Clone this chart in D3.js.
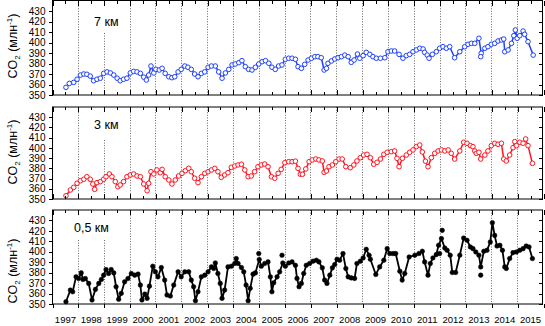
<!DOCTYPE html>
<html>
<head>
<meta charset="utf-8">
<script src="https://cdn.jsdelivr.net/npm/d3@7"></script>
<style>
  body { margin: 0; background: #fff; }
  svg { display: block; font-family: Arial, "Liberation Sans", sans-serif; }
</style>
</head>
<body>
<svg id="canvas"></svg>
<script>
// [decimal year, CO2 ppm]
const series7km = [
  [1997.54,357.3],[1997.67,361],[1997.84,362],[1997.97,365],[1998.10,369],[1998.23,370],[1998.35,369.7],[1998.48,368],
  [1998.61,363.6],[1998.74,365],[1998.87,366],[1999.00,370.6],[1999.13,372],[1999.26,371],[1999.39,369],[1999.52,366],
  [1999.64,363.6],[1999.77,365],[1999.90,366],[2000.03,371],[2000.16,372.5],[2000.29,372],[2000.42,370.6],[2000.55,367],
  [2000.65,364.3],[2000.74,369],[2000.83,377.6],[2000.94,371],[2001.02,374.4],[2001.15,373.8],[2001.26,375.4],[2001.38,370.6],
  [2001.52,367.4],[2001.64,366.5],[2001.75,367.4],[2001.88,372],[2002.00,374.4],[2002.14,377.6],[2002.26,376.4],[2002.39,374.4],
  [2002.52,370],[2002.65,367.4],[2002.78,370.6],[2002.91,372],[2003.04,376.4],[2003.17,377.6],[2003.32,377.6],[2003.45,372],
  [2003.58,366],[2003.71,371],[2003.84,374.4],[2003.97,378.6],[2004.09,379.5],[2004.23,380.8],[2004.35,382.7],[2004.48,377],
  [2004.61,374.4],[2004.74,373.8],[2004.87,376.4],[2005.00,379.5],[2005.13,381.7],[2005.26,382.7],[2005.39,380.2],[2005.51,376.4],
  [2005.64,374.4],[2005.77,377.6],[2005.90,378.6],[2006.03,384],[2006.16,385],[2006.29,385],[2006.42,384],[2006.52,377],
  [2006.65,375.4],[2006.78,379.2],[2006.91,383.3],[2007.04,385],[2007.17,386.5],[2007.29,386.5],[2007.42,385.5],[2007.53,373.8],
  [2007.62,375.4],[2007.68,380.2],[2007.81,382.4],[2007.94,384.3],[2008.07,385.5],[2008.20,386.5],[2008.33,388],[2008.46,386.5],
  [2008.58,381.1],[2008.69,383.3],[2008.82,389],[2008.91,385],[2009.04,387.5],[2009.16,390.6],[2009.30,388.7],[2009.42,386.5],
  [2009.55,385],[2009.71,385],[2009.88,385.5],[2010.00,391.2],[2010.13,391.9],[2010.26,391.9],[2010.43,388.7],[2010.58,385],
  [2010.71,387.5],[2010.84,388.7],[2010.97,391.2],[2011.10,392.9],[2011.23,394.5],[2011.36,393.8],[2011.42,390.6],[2011.52,388],
  [2011.59,385],[2011.72,388.7],[2011.87,391.2],[2012.00,394.5],[2012.13,396],[2012.26,394.5],[2012.39,396],[2012.58,385.5],
  [2012.78,391.2],[2012.97,396],[2013.10,398.3],[2013.23,399.2],[2013.36,399.2],[2013.52,404],[2013.61,389.7],[2013.75,394.5],
  [2013.87,396],[2014.00,398.3],[2014.13,399.2],[2014.26,401.4],[2014.39,402.4],[2014.48,403.3],[2014.52,391.2],[2014.65,392.9],
  [2014.78,399.2],[2014.87,406.5],[2014.93,411.9],[2015.00,404],[2015.10,406.5],[2015.23,410.9],[2015.29,407.8],[2015.42,400.8],
  [2015.62,388]
];
const extra7km = [[2013.59,386.5]];

const series3km = [
  [1997.54,353.2],[1997.71,358.8],[1997.84,361.4],[1997.97,365.4],[1998.10,367.9],[1998.23,369.3],[1998.35,371.8],[1998.48,369.3],
  [1998.58,364.7],[1998.65,359.5],[1998.74,366],[1998.87,367],[1999.00,369.3],[1999.09,371.8],[1999.22,374.5],[1999.32,371.8],
  [1999.45,367],[1999.55,362],[1999.64,363.7],[1999.77,367],[1999.90,371.8],[2000.03,373.5],[2000.16,374.5],[2000.29,372.5],
  [2000.42,371.8],[2000.55,364.7],[2000.68,358.1],[2000.74,365.4],[2000.83,376.7],[2000.94,374.5],[2001.06,378.4],[2001.19,375.7],
  [2001.26,379],[2001.38,371.8],[2001.52,368.6],[2001.64,364.7],[2001.77,368.6],[2001.90,372.5],[2002.03,375.1],[2002.16,377.7],
  [2002.29,380],[2002.39,376.7],[2002.52,370.3],[2002.65,366],[2002.78,371.8],[2002.91,375.1],[2003.04,376.7],[2003.17,378.4],
  [2003.30,380],[2003.42,376.7],[2003.55,371.2],[2003.68,373.5],[2003.81,375.7],[2003.94,381],[2004.07,382.3],[2004.20,383.3],
  [2004.33,384],[2004.46,378.4],[2004.59,371.8],[2004.71,372.5],[2004.84,376.7],[2004.97,381.6],[2005.10,383.3],[2005.23,384.2],
  [2005.36,381.6],[2005.49,371.8],[2005.62,370.3],[2005.75,375.1],[2005.87,379],[2006.01,385.5],[2006.16,386.5],[2006.29,386.5],
  [2006.42,387],[2006.52,380],[2006.61,374.2],[2006.69,374.2],[2006.82,379.4],[2006.95,386.5],[2007.07,388.2],[2007.21,389.1],
  [2007.33,388.2],[2007.46,387.2],[2007.53,376.1],[2007.62,377.4],[2007.72,381.6],[2007.85,383.3],[2007.98,386.5],[2008.11,389.1],
  [2008.23,389.1],[2008.37,381.6],[2008.54,380.6],[2008.68,383.3],[2008.80,387.2],[2008.93,390.4],[2009.06,393],[2009.19,393.7],
  [2009.32,390.4],[2009.45,384],[2009.58,385.9],[2009.71,389.1],[2009.84,393.7],[2009.97,395.7],[2010.13,396.3],[2010.26,397],
  [2010.35,389.8],[2010.43,381.6],[2010.56,389.8],[2010.71,393],[2010.84,395.7],[2010.97,398],[2011.10,401.2],[2011.23,402.8],
  [2011.33,396],[2011.45,387],[2011.55,381.6],[2011.68,390.4],[2011.81,394.7],[2011.94,397],[2012.07,398],[2012.20,397],
  [2012.33,398],[2012.45,394.7],[2012.58,389.1],[2012.78,397],[2012.93,405.5],[2013.06,404.5],[2013.19,402.2],[2013.29,401.2],
  [2013.36,397],[2013.42,394.7],[2013.52,395.7],[2013.59,389.1],[2013.75,393],[2013.87,397],[2014.00,402.2],[2014.13,404.5],
  [2014.26,403.5],[2014.39,404.5],[2014.48,389.1],[2014.58,387.2],[2014.71,393],[2014.84,400.2],[2014.91,406.1],[2014.97,402.2],
  [2015.10,405.5],[2015.23,404.5],[2015.33,408.7],[2015.42,402.2],[2015.59,384.9]
];
const extra3km = [];

const series05km = [
  [1997.54,352.2],[1997.71,363.3],[1997.80,361.7],[1997.93,376],[1998.03,374.4],[1998.13,379.8],[1998.20,373.5],[1998.29,374.4],
  [1998.42,369.7],[1998.55,353.8],[1998.68,364],[1998.81,369.7],[1998.91,373.5],[1999.00,377.6],[1999.09,383],[1999.19,379.2],
  [1999.29,383],[1999.39,379.8],[1999.48,366.5],[1999.58,354.5],[1999.68,360.2],[1999.81,371.2],[1999.94,374.4],[2000.07,379.2],
  [2000.20,377.6],[2000.33,378.6],[2000.42,368.1],[2000.48,353.8],[2000.59,359.5],[2000.68,355.4],[2000.77,367.1],[2000.90,386.2],
  [2001.00,380.8],[2001.10,376],[2001.23,384.9],[2001.36,372.9],[2001.45,358.6],[2001.58,357.6],[2001.71,368.1],[2001.88,380.8],
  [2002.00,376],[2002.14,380.8],[2002.29,380.8],[2002.39,372.9],[2002.48,366.5],[2002.55,353.1],[2002.65,361.7],[2002.78,376],
  [2002.91,377.6],[2003.04,380.8],[2003.17,385.5],[2003.26,384],[2003.32,389.3],[2003.42,379.2],[2003.51,369.7],[2003.58,355.4],
  [2003.68,363.3],[2003.81,385.5],[2003.94,386.2],[2004.07,388.8],[2004.13,393.5],[2004.20,388.8],[2004.33,384.9],[2004.42,380.8],
  [2004.51,368.1],[2004.59,353.1],[2004.67,365],[2004.78,378.6],[2004.87,379.8],[2005.02,392.6],[2005.10,386.2],[2005.23,388.8],
  [2005.36,390.3],[2005.45,376],[2005.51,361.7],[2005.58,370.3],[2005.71,376],[2005.81,380.8],[2005.93,389.3],[2006.03,386.2],
  [2006.16,389.3],[2006.29,390.3],[2006.42,387],[2006.48,374.5],[2006.56,366.5],[2006.65,369.7],[2006.74,379.2],[2006.84,387.1],
  [2006.97,388.8],[2007.10,391],[2007.23,391.9],[2007.33,390.3],[2007.46,384.6],[2007.55,372.9],[2007.64,369.7],[2007.75,377.6],
  [2007.85,384.6],[2007.94,387.8],[2008.03,392.9],[2008.13,391.9],[2008.26,398.3],[2008.37,384],[2008.46,376],[2008.58,375],
  [2008.71,374.5],[2008.80,388.8],[2008.93,391],[2009.04,394.1],[2009.16,402.4],[2009.27,396.7],[2009.32,392.9],[2009.53,378.3],
  [2009.68,385.5],[2009.84,391.9],[2009.97,403],[2010.07,398.3],[2010.20,398.3],[2010.30,398.3],[2010.46,381.4],[2010.55,372.9],
  [2010.65,379.2],[2010.82,395],[2011.04,396.7],[2011.20,398.3],[2011.33,400.5],[2011.42,390.3],[2011.55,377.6],[2011.64,388.8],
  [2011.74,394.1],[2011.87,397.3],[2011.96,406.2],[2012.07,412.6],[2012.20,403.6],[2012.29,401.4],[2012.41,396.7],[2012.49,380.2],
  [2012.62,380.2],[2012.78,396.7],[2012.93,413.1],[2013.06,411],[2013.19,404.6],[2013.29,403],[2013.40,399.8],[2013.52,396.7],
  [2013.59,385.5],[2013.71,400.5],[2013.83,401.4],[2013.96,409.3],[2014.04,427.8],[2014.13,415.7],[2014.22,405.5],[2014.33,406.2],
  [2014.43,401.4],[2014.52,385.5],[2014.58,384],[2014.71,393.5],[2014.84,399.2],[2014.97,399.8],[2015.10,401.4],[2015.23,403],
  [2015.35,405.5],[2015.46,404.6],[2015.59,393.5]
];
const extra05km = [[2005.00,398.3],[2005.90,396.7],[2012.00,398.3],[2012.10,420.5],[2013.59,377.6]];

const yearLabels = d3.range(1997, 2016);
const yTickValues = [350, 360, 370, 380, 390, 400, 410, 420, 430];
const panelTitles = ["7 км", "3 км", "0,5 км"];

const width = 545;
const height = 326;
const svg = d3.select("#canvas").attr("width", width).attr("height", height);

const xScale = d3.scaleLinear().domain([1997, 2016]).range([52, 543]);
const yearTicks = d3.range(1997, 2017);
const halfTicks = d3.range(1997.5, 2016, 1);

const panels = [
  { top: 0.5, bottom: 95, data: series7km, extra: extra7km, color: "#1f40ff", filled: false,
    title: panelTitles[0], titleX: 94, titleY: 26, labelY: 46, gaps: { 1999: 33 } },
  { top: 107, bottom: 199, data: series3km, extra: extra3km, color: "#ff1420", filled: false,
    title: panelTitles[1], titleX: 94, titleY: 129, labelY: 152, gaps: { 1999: 140 } },
  { top: 210, bottom: 304, data: series05km, extra: extra05km, color: "#000", filled: true,
    title: panelTitles[2], titleX: 74, titleY: 232, labelY: 271, gaps: { 1998: 240, 1999: 240 } }
];

panels.forEach((p, i) => renderPanel(svg, p, i === panels.length - 1));

function renderPanel(root, p, isLast) {
  const yScale = d3.scaleLinear().domain([350, 440]).range([p.bottom, p.top]);
  const g = root.append("g").classed("panel", true);

  // dotted year lines
  g.append("g").selectAll("line")
    .data(d3.range(1998, 2016))
    .join("line")
    .attr("x1", d => Math.round(xScale(d)) + 0.5)
    .attr("x2", d => Math.round(xScale(d)) + 0.5)
    .attr("y1", d => p.gaps[d] !== undefined ? p.gaps[d] : p.top)
    .attr("y2", p.bottom)
    .attr("stroke", "#444")
    .attr("stroke-width", 0.8)
    .attr("stroke-dasharray", "1,1.6");

  const line = d3.line().x(d => xScale(d[0])).y(d => yScale(d[1]));
  g.append("path")
    .datum(p.data)
    .attr("d", line)
    .attr("fill", "none")
    .attr("stroke", p.color)
    .attr("stroke-width", p.filled ? 1.8 : 1.5)
    .attr("stroke-linejoin", "round");

  g.append("g").selectAll("circle")
    .data(p.data.concat(p.extra))
    .join("circle")
    .attr("cx", d => xScale(d[0]))
    .attr("cy", d => yScale(d[1]))
    .attr("r", 2.3)
    .attr("fill", p.filled ? p.color : "#fff")
    .attr("stroke", p.color)
    .attr("stroke-width", p.filled ? 0.5 : 1);

  // frame
  g.append("rect")
    .attr("x", 52.5).attr("y", p.top)
    .attr("width", 490).attr("height", p.bottom - p.top)
    .attr("fill", "none").attr("stroke", "#000").attr("stroke-width", 1);

  const noLabel = () => "";
  const tidy = sel => sel.call(s => s.select(".domain").remove())
    .selectAll("line").attr("stroke", "#000").attr("shape-rendering", "crispEdges");

  // top ticks, inward
  g.append("g").attr("transform", `translate(0.5, ${p.top})`)
    .call(d3.axisBottom(xScale).tickValues(yearTicks).tickSize(5).tickFormat(noLabel)).call(tidy);
  g.append("g").attr("transform", `translate(0.5, ${p.top})`)
    .call(d3.axisBottom(xScale).tickValues(halfTicks).tickSize(3).tickFormat(noLabel)).call(tidy);

  if (!isLast) {
    g.append("g").attr("transform", `translate(0.5, ${p.bottom})`)
      .call(d3.axisTop(xScale).tickValues(yearTicks).tickSize(5).tickFormat(noLabel)).call(tidy);
    g.append("g").attr("transform", `translate(0.5, ${p.bottom})`)
      .call(d3.axisTop(xScale).tickValues(halfTicks).tickSize(3).tickFormat(noLabel)).call(tidy);
  } else {
    g.append("g").attr("transform", `translate(0.5, ${p.bottom})`)
      .call(d3.axisBottom(xScale).tickValues(yearTicks).tickSize(4).tickFormat(noLabel)).call(tidy);
    const xLabels = g.append("g").attr("transform", `translate(0, ${p.bottom})`)
      .call(d3.axisBottom(xScale).tickValues(yearLabels.map(y => y + 0.5)).tickSize(0).tickPadding(12)
        .tickFormat(d => String(Math.floor(d))));
    xLabels.select(".domain").remove();
    xLabels.selectAll("text").attr("fill", "#000").style("font-size", "9.5px").style("font-family", null);
  }

  // left axis with labels
  const yAxisG = g.append("g").attr("transform", "translate(52.5, 0)")
    .call(d3.axisLeft(yScale).tickValues(yTickValues).tickSize(4).tickPadding(3));
  yAxisG.call(tidy);
  yAxisG.selectAll("text").attr("fill", "#000").style("font-size", "10px").style("font-family", null);

  // right axis, inward ticks
  g.append("g").attr("transform", "translate(542.5, 0)")
    .call(d3.axisLeft(yScale).tickValues(yTickValues).tickSize(4).tickFormat(noLabel)).call(tidy);

  // panel title
  g.append("text")
    .attr("x", p.titleX).attr("y", p.titleY)
    .style("font-size", "12.5px")
    .text(p.title);

  // y axis title
  const yt = g.append("text")
    .attr("transform", `translate(17, ${p.labelY}) rotate(-90)`)
    .style("font-size", "12.5px")
    .style("text-anchor", "middle");
  yt.append("tspan").text("CO");
  yt.append("tspan").attr("dy", 3).style("font-size", "8px").text("2");
  yt.append("tspan").attr("dy", -3).text(" (млн");
  yt.append("tspan").attr("dy", -5).style("font-size", "8px").text("-1");
  yt.append("tspan").attr("dy", 5).text(")");
}
</script>
</body>
</html>
